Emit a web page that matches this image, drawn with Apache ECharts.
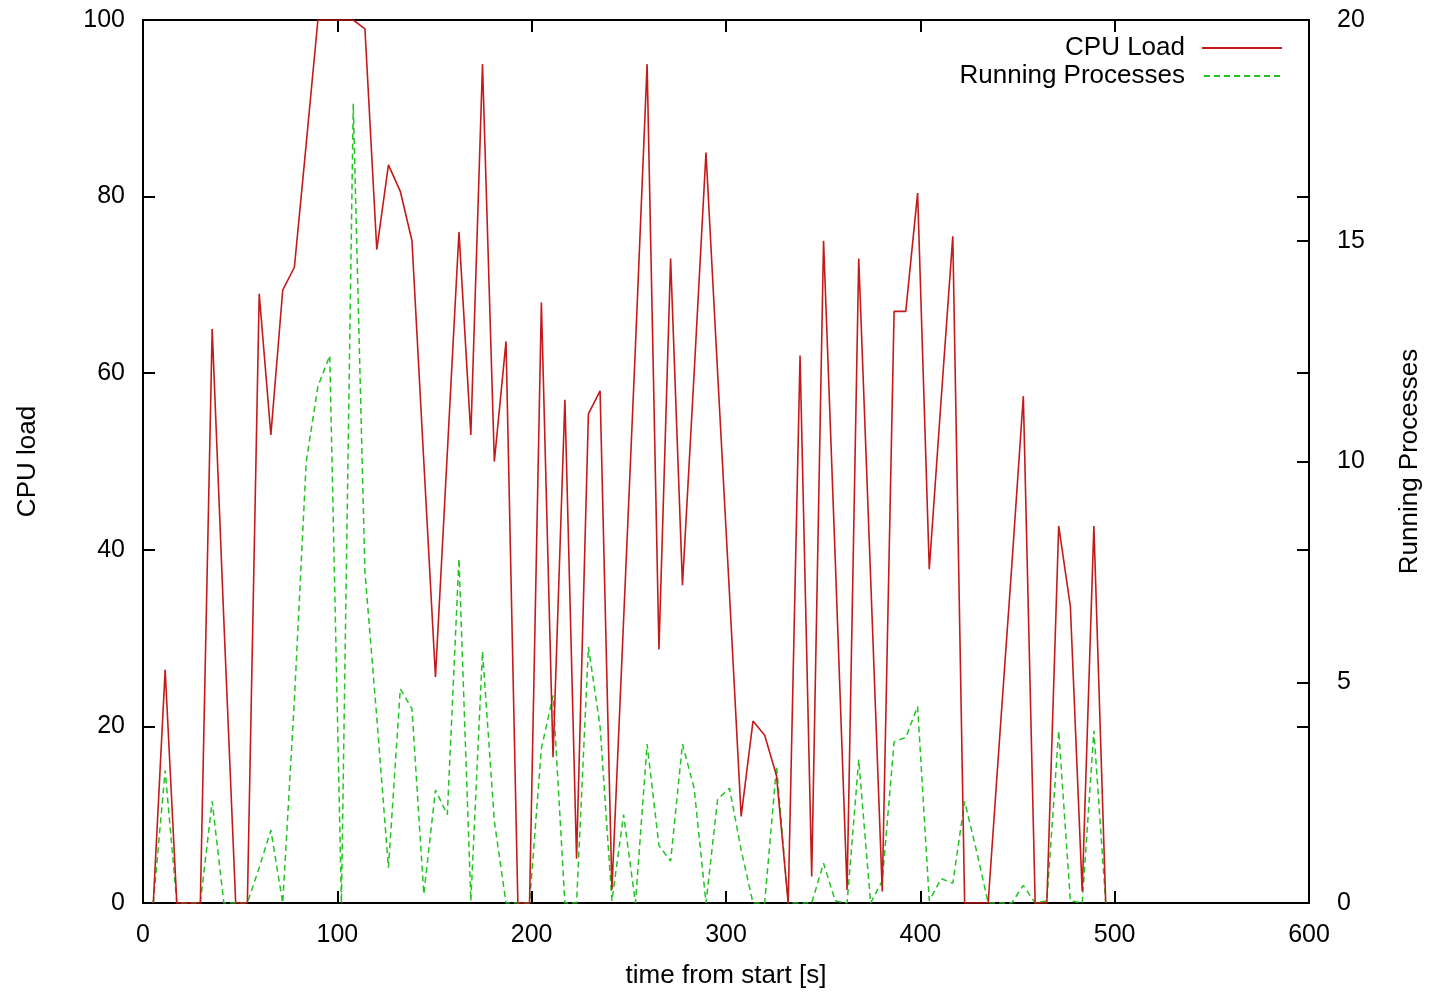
<!DOCTYPE html>
<html>
<head>
<meta charset="utf-8">
<script src="https://cdn.jsdelivr.net/npm/echarts@6/dist/echarts.min.js"></script>
<style>
html,body{margin:0;padding:0;background:#fff;width:100%;height:100%;overflow:hidden;}
#chart{width:100vw;height:100vh;}
</style>
</head>
<body>
<div id="chart"></div>
<script>
// time from start [s]
const times = [5.3, 11.4, 17.4, 23.5, 29.5, 35.6, 41.6, 47.7, 53.7, 59.8, 65.8, 71.9, 77.9, 84.0, 90.0, 96.1, 102.1, 108.2, 114.2, 120.3,
  126.3, 132.4, 138.4, 144.5, 150.5, 156.6, 162.6, 168.7, 174.7, 180.8, 186.8, 192.9, 198.9, 205.0, 211.0, 217.1, 223.1, 229.2, 235.2, 241.3,
  247.3, 253.4, 259.4, 265.5, 271.5, 277.6, 283.6, 289.7, 295.7, 301.8, 307.8, 313.9, 319.9, 326.0, 332.0, 338.1, 344.1, 350.2, 356.2, 362.3,
  368.3, 374.4, 380.4, 386.5, 392.5, 398.6, 404.6, 410.7, 416.7, 422.8, 428.8, 434.9, 440.9, 447.0, 453.0, 459.1, 465.1, 471.2, 477.2, 483.3,
  489.3, 495.4];
// CPU load [%]
const cpuLoad = [0, 26.4, 0, 0, 0, 65, 32, 0, 0, 69, 53, 69.4, 72, 86, 100, 100, 100, 100, 99, 74,
  83.6, 80.6, 75, 50, 25.6, 51, 76, 53, 95, 50, 63.6, 0, 0, 68, 16.5, 57, 5, 55.4, 58, 1.5,
  32, 63, 95, 28.7, 73, 36, 60, 85, 60, 35, 9.8, 20.6, 19, 14.4, 0, 62, 3, 75, 39, 1.5,
  73, 37, 1.3, 67, 67, 80.4, 37.8, 57, 75.5, 0, 0, 0, 19, 38, 57.4, 0, 0, 42.7, 33.6, 1.3,
  42.7, 0];
// Running processes
const runningProcs = [0, 3.0, 0, 0, 0, 2.3, 0, 0, 0, 0.8, 1.65, 0, 4.6, 10, 11.7, 12.4, 0, 18.1, 7.5, 4.2,
  0.8, 4.85, 4.4, 0.2, 2.56, 2.0, 7.8, 0.05, 5.7, 1.85, 0, 0, 0, 3.5, 4.7, 0, 0, 5.8, 4.0, 0.05,
  2.0, 0, 3.6, 1.3, 0.95, 3.6, 2.6, 0, 2.35, 2.6, 1.2, 0, 0, 3.1, 0, 0, 0, 0.9, 0.05, 0,
  3.25, 0, 0.5, 3.65, 3.75, 4.45, 0.05, 0.55, 0.45, 2.3, 1.2, 0, 0, 0, 0.4, 0, 0.05, 3.9, 0.05, 0,
  3.9, 0];

const seriesNames = ['CPU Load', 'Running Processes'];
const xTitle = 'time from start [s]';
const yTitle = 'CPU load';
const y2Title = 'Running Processes';

const cpuData = times.map((t, i) => [t, cpuLoad[i]]);
const procData = times.map((t, i) => [t, runningProcs[i]]);

const FONT = 'Liberation Sans';
const black = '#000';
const RED = '#c41a1a';
const GREEN = '#22c422';
const axisLine = {show: true, onZero: false, lineStyle: {color: black, width: 2}};
const tick = (len) => ({show: true, inside: true, length: len, lineStyle: {color: black, width: 2}});

// legend sample icons (solid / dashed strokes, as filled paths)
const solidIcon = 'path://M0,0h80v2h-80z';
let dashPath = 'path://';
for (let x = 0; x < 80; x += 10) dashPath += 'M' + x + ',0h6v2h-6z';

const chart = echarts.init(document.getElementById('chart'), null, {renderer: 'canvas'});
chart.setOption({
  backgroundColor: '#fff',
  animation: false,
  textStyle: {fontFamily: FONT},
  grid: {left: 143, right: 118, top: 20, bottom: 74, containLabel: false},
  legend: {
    data: [
      {name: seriesNames[0], icon: solidIcon, itemStyle: {color: RED}},
      {name: seriesNames[1], icon: dashPath, itemStyle: {color: GREEN}}
    ],
    orient: 'vertical',
    right: 144,
    top: 30,
    align: 'right',
    itemWidth: 80,
    itemHeight: 2,
    itemGap: 2,
    textStyle: {fontFamily: FONT, fontSize: 26, color: black, padding: [0, 12, 0, 0]},
    selectedMode: false
  },
  xAxis: [
    {
      type: 'value', min: 0, max: 600, interval: 100, position: 'bottom',
      name: xTitle, nameLocation: 'middle', nameGap: 60,
      nameTextStyle: {fontFamily: FONT, fontSize: 26, color: black},
      axisLine: axisLine, axisTick: tick(12),
      axisLabel: {color: black, fontSize: 25, fontFamily: FONT, margin: 20},
      splitLine: {show: false}
    },
    {
      type: 'value', min: 0, max: 600, interval: 100, position: 'top',
      axisLine: axisLine, axisTick: tick(12), axisLabel: {show: false}, splitLine: {show: false}
    }
  ],
  yAxis: [
    {
      type: 'value', min: 0, max: 100, interval: 20, position: 'left',
      name: yTitle, nameLocation: 'middle', nameGap: 102, nameRotate: 90,
      nameTextStyle: {fontFamily: FONT, fontSize: 26, color: black},
      axisLine: axisLine, axisTick: tick(12),
      axisLabel: {color: black, fontSize: 25, fontFamily: FONT, margin: 18},
      splitLine: {show: false}
    },
    {
      type: 'value', min: 0, max: 20, interval: 5, position: 'right',
      name: y2Title, nameLocation: 'middle', nameGap: 88, nameRotate: 90,
      nameTextStyle: {fontFamily: FONT, fontSize: 26, color: black},
      axisLine: axisLine, axisTick: tick(12),
      axisLabel: {color: black, fontSize: 25, fontFamily: FONT, margin: 28},
      splitLine: {show: false}
    },
    {
      type: 'value', min: 0, max: 100, interval: 20, position: 'right',
      axisLine: axisLine, axisTick: tick(12), axisLabel: {show: false}, splitLine: {show: false}
    }
  ],
  series: [
    {
      name: seriesNames[0], type: 'line', xAxisIndex: 0, yAxisIndex: 0,
      data: cpuData, showSymbol: false, symbol: 'none',
      lineStyle: {color: RED, width: 1.6},
      itemStyle: {color: RED},
      z: 3
    },
    {
      name: seriesNames[1], type: 'line', xAxisIndex: 0, yAxisIndex: 1,
      data: procData, showSymbol: false, symbol: 'none',
      lineStyle: {color: GREEN, width: 1.5, type: [6, 4]},
      itemStyle: {color: GREEN},
      z: 2
    }
  ]
});
window.addEventListener('resize', () => chart.resize());
</script>
</body>
</html>
